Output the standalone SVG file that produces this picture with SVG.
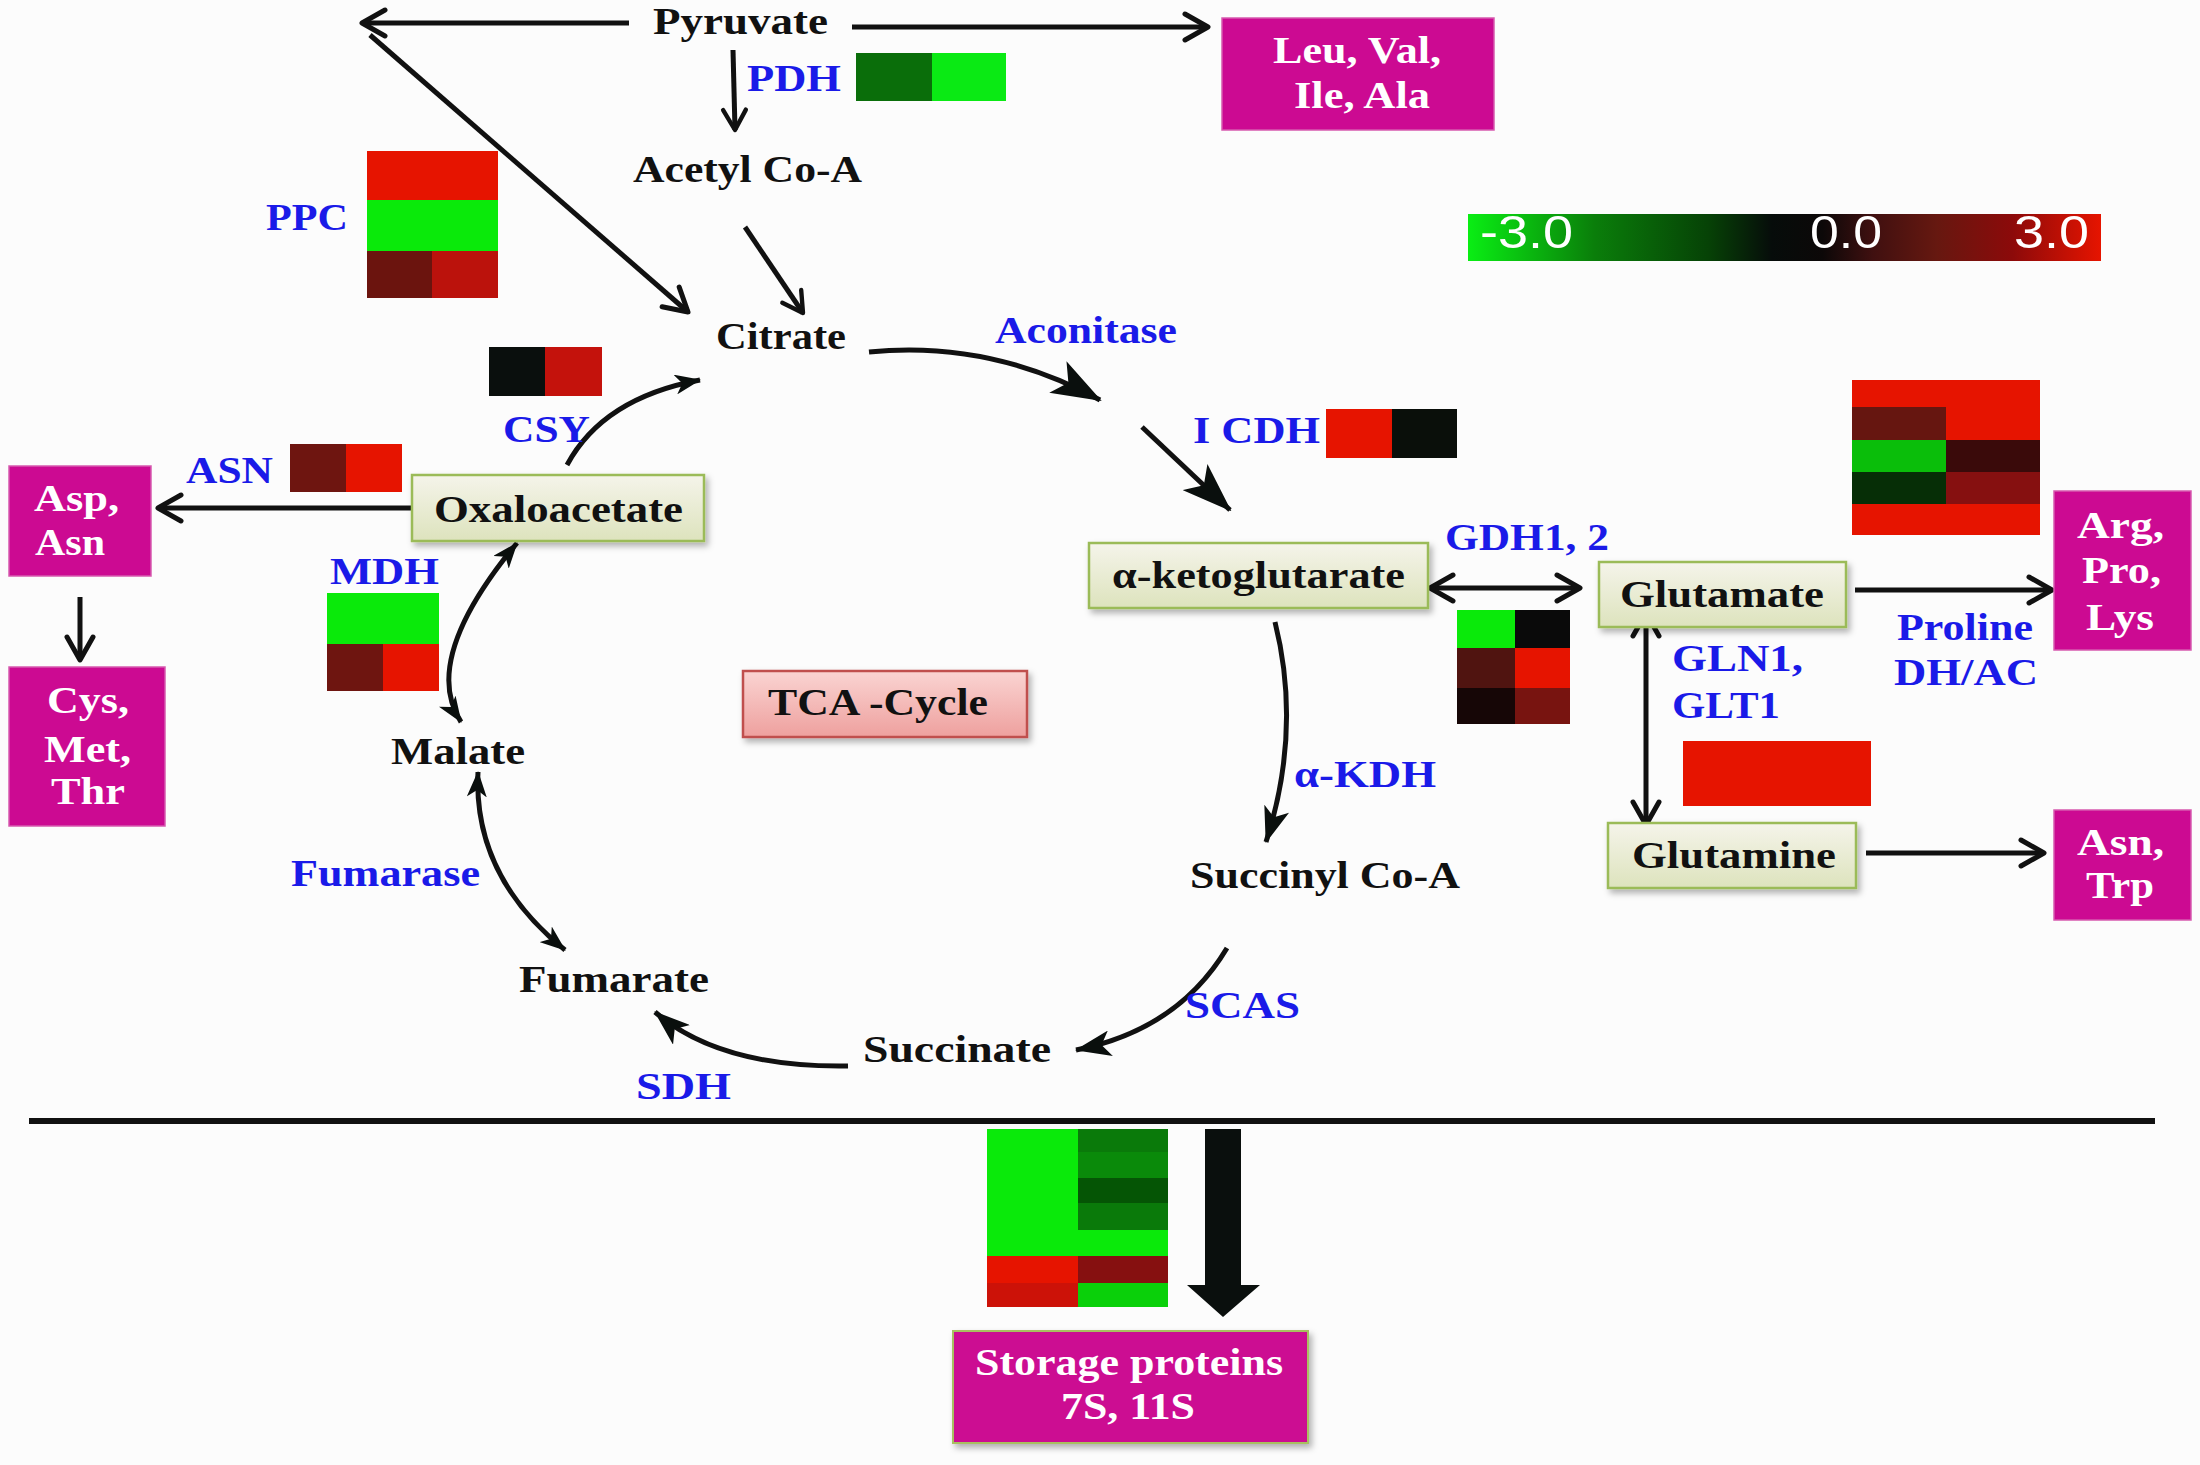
<svg xmlns="http://www.w3.org/2000/svg" width="2200" height="1465" viewBox="0 0 2200 1465">
<style>
text{font-family:"Liberation Serif","Times New Roman",serif;font-weight:bold;font-size:37px}
.met{fill:#111}
.enz{fill:#1a1ae8}
.wt{fill:#ffffff}
.cb{font-family:"Liberation Sans",Arial,sans-serif;font-weight:normal;font-size:47px;fill:#ffffff}
.ln{stroke:#111;fill:none;stroke-width:5;stroke-linecap:butt}
.gbox{fill:url(#gGreen);stroke:#9bbb59;stroke-width:2.5;filter:url(#sh)}
.mbox{fill:#cc0a92;stroke:#d65aae;stroke-width:1.5}
.R{fill:#e61400}
.G{fill:#0aea0a}
</style>
<defs>
<linearGradient id="gGreen" x1="0" y1="0" x2="0" y2="1">
<stop offset="0" stop-color="#f5f4ea"/>
<stop offset="1" stop-color="#dde3bd"/>
</linearGradient>
<linearGradient id="gPink" x1="0" y1="0" x2="0" y2="1">
<stop offset="0" stop-color="#fad4d2"/>
<stop offset="1" stop-color="#eea09e"/>
</linearGradient>
<linearGradient id="gBar" x1="0" y1="0" x2="1" y2="0">
<stop offset="0" stop-color="#0aee14"/>
<stop offset="0.2" stop-color="#0a7e0a"/>
<stop offset="0.38" stop-color="#064206"/>
<stop offset="0.48" stop-color="#060c0a"/>
<stop offset="0.56" stop-color="#0c0808"/>
<stop offset="0.64" stop-color="#401010"/>
<stop offset="0.74" stop-color="#661810"/>
<stop offset="0.86" stop-color="#8c0a0a"/>
<stop offset="1" stop-color="#e61400"/>
</linearGradient>
<filter id="sh" x="-10%" y="-20%" width="130%" height="160%">
<feDropShadow dx="3" dy="4" stdDeviation="3" flood-color="#000" flood-opacity="0.3"/>
</filter>
<marker id="chev" viewBox="0 0 32 32" refX="29" refY="16" markerWidth="32" markerHeight="32" markerUnits="userSpaceOnUse" orient="auto-start-reverse">
<path d="M6,3 L29,16 L6,29" fill="none" stroke="#111" stroke-width="5" stroke-linejoin="round" stroke-linecap="round"/>
</marker>
<marker id="chevS" viewBox="0 0 32 32" refX="29" refY="16" markerWidth="28" markerHeight="28" markerUnits="userSpaceOnUse" orient="auto-start-reverse">
<path d="M6,3 L29,16 L6,29" fill="none" stroke="#111" stroke-width="5" stroke-linejoin="round" stroke-linecap="round"/>
</marker>
<marker id="headL" viewBox="0 0 50 36" refX="48" refY="18" markerWidth="50" markerHeight="36" markerUnits="userSpaceOnUse" orient="auto-start-reverse">
<path d="M0,0 L50,18 L0,36 L12,18 z" fill="#0a0f0d"/>
</marker>
<marker id="headM" viewBox="0 0 36 26" refX="35" refY="13" markerWidth="36" markerHeight="26" markerUnits="userSpaceOnUse" orient="auto-start-reverse">
<path d="M0,0 L36,13 L0,26 L9,13 z" fill="#0a0f0d"/>
</marker>
<marker id="headS" viewBox="0 0 26 20" refX="25" refY="10" markerWidth="26" markerHeight="20" markerUnits="userSpaceOnUse" orient="auto-start-reverse">
<path d="M0,0 L26,10 L0,20 L7,10 z" fill="#0a0f0d"/>
</marker>
</defs>
<rect x="0" y="0" width="2200" height="1465" fill="#fcfcfc"/>

<g id="connectors">
<line class="ln" x1="629" y1="23" x2="362" y2="23" marker-end="url(#chev)"/>
<line class="ln" x1="370" y1="35" x2="688" y2="312" marker-end="url(#chev)"/>
<line class="ln" x1="852" y1="27" x2="1208" y2="27" marker-end="url(#chev)"/>
<line class="ln" stroke-width="4" x1="733" y1="50" x2="735" y2="130" marker-end="url(#chevS)"/>
<line class="ln" stroke-width="4.5" x1="745" y1="227" x2="803" y2="313" marker-end="url(#chevS)"/>
<path class="ln" d="M869,352 Q990,340 1100,400" marker-end="url(#headL)"/>
<line class="ln" stroke-width="6" x1="1142" y1="427" x2="1230" y2="510" marker-end="url(#headL)"/>
<line class="ln" x1="1430" y1="588" x2="1580" y2="588" marker-start="url(#chev)" marker-end="url(#chev)"/>
<line class="ln" x1="1855" y1="590" x2="2052" y2="590" marker-end="url(#chev)"/>
<line class="ln" stroke-width="4.5" x1="1646" y1="613" x2="1646" y2="825" marker-start="url(#chev)" marker-end="url(#chev)"/>
<line class="ln" x1="1866" y1="853" x2="2044" y2="853" marker-end="url(#chev)"/>
<path class="ln" stroke-width="4" d="M1275,622 Q1302,730 1266,842" marker-end="url(#headM)"/>
<path class="ln" stroke-width="4" d="M1227,948 Q1178,1030 1076,1050" marker-end="url(#headM)"/>
<path class="ln" stroke-width="4" d="M848,1066 Q720,1068 655,1012" marker-end="url(#headM)"/>
<path class="ln" stroke-width="4" d="M478,772 Q473,876 565,950" marker-start="url(#headS)" marker-end="url(#headS)"/>
<path class="ln" stroke-width="4" d="M517,543 Q420,660 461,722" marker-start="url(#headS)" marker-end="url(#headS)"/>
<path class="ln" stroke-width="3.5" d="M567,465 Q603,398 700,380" marker-end="url(#headS)"/>
<line class="ln" x1="411" y1="508" x2="158" y2="508" marker-end="url(#chev)"/>
<line class="ln" x1="80" y1="597" x2="80" y2="660" marker-end="url(#chev)"/>
<line x1="29" y1="1121" x2="2155" y2="1121" stroke="#111" stroke-width="6"/>
<polygon points="1205,1129 1241,1129 1241,1285 1260,1285 1223,1317 1187,1285 1205,1285" fill="#0a0f0d"/>
</g>

<g id="pyruvate"><text class="met" x="653" y="34" textLength="175" lengthAdjust="spacingAndGlyphs">Pyruvate</text></g>
<g id="acetylcoa"><text class="met" x="633" y="182" textLength="229" lengthAdjust="spacingAndGlyphs">Acetyl Co-A</text></g>
<g id="citrate"><text class="met" x="716" y="349" textLength="130" lengthAdjust="spacingAndGlyphs">Citrate</text></g>
<g id="oxaloacetate">
<rect class="gbox" x="412" y="475" width="292" height="66"/>
<text class="met" x="434" y="522" textLength="249" lengthAdjust="spacingAndGlyphs">Oxaloacetate</text>
</g>
<g id="aketoglutarate">
<rect class="gbox" x="1089" y="543" width="339" height="65"/>
<text class="met" x="1112" y="588" textLength="293" lengthAdjust="spacingAndGlyphs">α-ketoglutarate</text>
</g>
<g id="glutamate">
<rect class="gbox" x="1599" y="562" width="247" height="65"/>
<text class="met" x="1620" y="607" textLength="204" lengthAdjust="spacingAndGlyphs">Glutamate</text>
</g>
<g id="glutamine">
<rect class="gbox" x="1608" y="823" width="248" height="65"/>
<text class="met" x="1632" y="868" textLength="204" lengthAdjust="spacingAndGlyphs">Glutamine</text>
</g>
<g id="malate"><text class="met" x="391" y="764" textLength="134" lengthAdjust="spacingAndGlyphs">Malate</text></g>
<g id="fumarate"><text class="met" x="519" y="992" textLength="190" lengthAdjust="spacingAndGlyphs">Fumarate</text></g>
<g id="succinate"><text class="met" x="863" y="1062" textLength="188" lengthAdjust="spacingAndGlyphs">Succinate</text></g>
<g id="succinylcoa"><text class="met" x="1190" y="888" textLength="270" lengthAdjust="spacingAndGlyphs">Succinyl Co-A</text></g>
<g id="tca">
<rect x="743" y="671" width="284" height="66" fill="url(#gPink)" stroke="#c0504d" stroke-width="2.5" filter="url(#sh)"/>
<text class="met" x="768" y="715" textLength="220" lengthAdjust="spacingAndGlyphs">TCA -Cycle</text>
</g>

<g id="leu">
<rect class="mbox" x="1222" y="18" width="272" height="112"/>
<text class="wt" x="1273" y="63" textLength="168" lengthAdjust="spacingAndGlyphs">Leu, Val,</text>
<text class="wt" x="1294" y="108" textLength="136" lengthAdjust="spacingAndGlyphs">Ile, Ala</text>
</g>
<g id="asp">
<rect class="mbox" x="9" y="466" width="142" height="110"/>
<text class="wt" x="34" y="511" textLength="85" lengthAdjust="spacingAndGlyphs">Asp,</text>
<text class="wt" x="35" y="555" textLength="70" lengthAdjust="spacingAndGlyphs">Asn</text>
</g>
<g id="cys">
<rect class="mbox" x="9" y="667" width="156" height="159"/>
<text class="wt" x="47" y="713" textLength="82" lengthAdjust="spacingAndGlyphs">Cys,</text>
<text class="wt" x="44" y="762" textLength="87" lengthAdjust="spacingAndGlyphs">Met,</text>
<text class="wt" x="51" y="804" textLength="74" lengthAdjust="spacingAndGlyphs">Thr</text>
</g>
<g id="arg">
<rect class="mbox" x="2054" y="491" width="137" height="159"/>
<text class="wt" x="2077" y="538" textLength="87" lengthAdjust="spacingAndGlyphs">Arg,</text>
<text class="wt" x="2082" y="583" textLength="79" lengthAdjust="spacingAndGlyphs">Pro,</text>
<text class="wt" x="2086" y="630" textLength="68" lengthAdjust="spacingAndGlyphs">Lys</text>
</g>
<g id="asntrp">
<rect class="mbox" x="2054" y="810" width="137" height="110"/>
<text class="wt" x="2077" y="855" textLength="87" lengthAdjust="spacingAndGlyphs">Asn,</text>
<text class="wt" x="2086" y="898" textLength="68" lengthAdjust="spacingAndGlyphs">Trp</text>
</g>
<g id="storage">
<rect x="953" y="1331" width="355" height="112" fill="#cc0a92" stroke="#a8c060" stroke-width="2" filter="url(#sh)"/>
<text class="wt" x="975" y="1375" textLength="308" lengthAdjust="spacingAndGlyphs">Storage proteins</text>
<text class="wt" x="1061" y="1419" textLength="134" lengthAdjust="spacingAndGlyphs">7S, 11S</text>
</g>

<g id="enzymes">
<text class="enz" x="747" y="91" textLength="94" lengthAdjust="spacingAndGlyphs">PDH</text>
<text class="enz" x="266" y="230" textLength="82" lengthAdjust="spacingAndGlyphs">PPC</text>
<text class="enz" x="503" y="442" textLength="87" lengthAdjust="spacingAndGlyphs">CSY</text>
<text class="enz" x="186" y="483" textLength="87" lengthAdjust="spacingAndGlyphs">ASN</text>
<text class="enz" x="330" y="584" textLength="109" lengthAdjust="spacingAndGlyphs">MDH</text>
<text class="enz" x="291" y="886" textLength="189" lengthAdjust="spacingAndGlyphs">Fumarase</text>
<text class="enz" x="636" y="1099" textLength="95" lengthAdjust="spacingAndGlyphs">SDH</text>
<text class="enz" x="1185" y="1018" textLength="115" lengthAdjust="spacingAndGlyphs">SCAS</text>
<text class="enz" x="1294" y="787" textLength="142" lengthAdjust="spacingAndGlyphs">α-KDH</text>
<text class="enz" x="995" y="343" textLength="182" lengthAdjust="spacingAndGlyphs">Aconitase</text>
<text class="enz" x="1193" y="443" textLength="127" lengthAdjust="spacingAndGlyphs">I CDH</text>
<text class="enz" x="1445" y="550" textLength="164" lengthAdjust="spacingAndGlyphs">GDH1, 2</text>
<text class="enz" x="1672" y="671" textLength="131" lengthAdjust="spacingAndGlyphs">GLN1,</text>
<text class="enz" x="1672" y="718" textLength="108" lengthAdjust="spacingAndGlyphs">GLT1</text>
<text class="enz" x="1897" y="640" textLength="136" lengthAdjust="spacingAndGlyphs">Proline</text>
<text class="enz" x="1894" y="685" textLength="144" lengthAdjust="spacingAndGlyphs">DH/AC</text>
</g>

<g id="heatmaps">
<g id="hm-ppc">
<rect class="R" x="367" y="151" width="131" height="49"/>
<rect class="G" x="367" y="200" width="131" height="51"/>
<rect x="367" y="251" width="65" height="47" fill="#6b140e"/>
<rect x="432" y="251" width="66" height="47" fill="#bb120c"/>
</g>
<g id="hm-pdh">
<rect x="856" y="53" width="76" height="48" fill="#0a6e0a"/>
<rect x="932" y="53" width="74" height="48" fill="#0aea14"/>
</g>
<g id="hm-csy">
<rect x="489" y="347" width="56" height="49" fill="#0a0f0d"/>
<rect x="545" y="347" width="57" height="49" fill="#c4120c"/>
</g>
<g id="hm-asn">
<rect x="290" y="444" width="56" height="48" fill="#6e1510"/>
<rect class="R" x="346" y="444" width="56" height="48"/>
</g>
<g id="hm-mdh">
<rect class="G" x="327" y="593" width="112" height="51"/>
<rect x="327" y="644" width="56" height="47" fill="#6e1510"/>
<rect class="R" x="383" y="644" width="56" height="47"/>
</g>
<g id="hm-icdh">
<rect class="R" x="1326" y="409" width="66" height="49"/>
<rect x="1392" y="409" width="65" height="49" fill="#0a0f0a"/>
</g>
<g id="hm-gdh">
<rect class="G" x="1457" y="610" width="58" height="38"/>
<rect x="1515" y="610" width="55" height="38" fill="#0a0a0a"/>
<rect x="1457" y="648" width="58" height="40" fill="#501410"/>
<rect class="R" x="1515" y="648" width="55" height="40"/>
<rect x="1457" y="688" width="58" height="36" fill="#160606"/>
<rect x="1515" y="688" width="55" height="36" fill="#781410"/>
</g>
<g id="hm-pro">
<rect class="R" x="1852" y="380" width="188" height="27"/>
<rect x="1852" y="407" width="94" height="33" fill="#661610"/>
<rect class="R" x="1946" y="407" width="94" height="33"/>
<rect x="1852" y="440" width="94" height="32" fill="#0abe0a"/>
<rect x="1946" y="440" width="94" height="32" fill="#3a0a0a"/>
<rect x="1852" y="472" width="94" height="32" fill="#062e06"/>
<rect x="1946" y="472" width="94" height="32" fill="#861010"/>
<rect class="R" x="1852" y="504" width="188" height="31"/>
</g>
<g id="hm-gln">
<rect class="R" x="1683" y="741" width="188" height="65"/>
</g>
<g id="hm-storage">
<rect class="G" x="987" y="1129" width="91" height="127"/>
<rect class="R" x="987" y="1256" width="91" height="27"/>
<rect x="987" y="1283" width="91" height="24" fill="#cc1208"/>
<rect x="1078" y="1129" width="90" height="23" fill="#0a7a0a"/>
<rect x="1078" y="1152" width="90" height="26" fill="#0a8a0a"/>
<rect x="1078" y="1178" width="90" height="25" fill="#055505"/>
<rect x="1078" y="1203" width="90" height="27" fill="#0a7a0a"/>
<rect class="G" x="1078" y="1230" width="90" height="26"/>
<rect x="1078" y="1256" width="90" height="27" fill="#861010"/>
<rect x="1078" y="1283" width="90" height="24" fill="#0ad00a"/>
</g>
</g>

<g id="colorbar">
<rect x="1468" y="214" width="633" height="47" fill="url(#gBar)"/>
<text class="cb" x="1480" y="248" textLength="93" lengthAdjust="spacingAndGlyphs">-3.0</text>
<text class="cb" x="1810" y="248" textLength="72" lengthAdjust="spacingAndGlyphs">0.0</text>
<text class="cb" x="2014" y="248" textLength="75" lengthAdjust="spacingAndGlyphs">3.0</text>
</g>
</svg>
